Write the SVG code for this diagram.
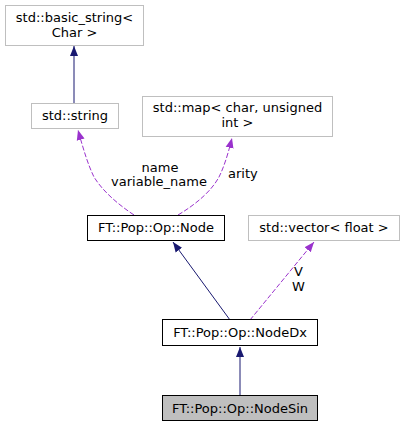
<svg xmlns="http://www.w3.org/2000/svg" width="405" height="427" viewBox="0 0 405 427">
<style>
text{font-family:"DejaVu Sans",sans-serif;font-size:13px;fill:#000}
.ext{fill:#fff;stroke:#bfbfbf;stroke-width:1}
.cls{fill:#fff;stroke:#000;stroke-width:1}
.cur{fill:#bfbfbf;stroke:#000;stroke-width:1}
.inh{fill:none;stroke:#191970;stroke-width:1}
.use{fill:none;stroke:#9a32cd;stroke-width:1;stroke-dasharray:5,2}
</style>
<defs>
<marker id="ah" viewBox="0 0 10 10" refX="10" refY="5" markerWidth="10" markerHeight="10" markerUnits="userSpaceOnUse" orient="auto"><path d="M0,1 L10,5 L0,9 Z" fill="#191970"/></marker>
<marker id="ap" viewBox="0 0 10 10" refX="10" refY="5" markerWidth="10" markerHeight="10" markerUnits="userSpaceOnUse" orient="auto"><path d="M0,1 L10,5 L0,9 Z" fill="#9a32cd"/></marker>
</defs>
<g id="connectors">
<path class="inh" d="M74,103 L74,46" marker-end="url(#ah)"/>
<path class="use" d="M134,215 C116,203 102,190 94,177 C88,165 83,148 78,130" marker-end="url(#ap)"/>
<path class="use" d="M178,215 C198,203 212,190 219,177 C225,165 229,150 232,138" marker-end="url(#ap)"/>
<path class="inh" d="M230,320 L173,242" marker-end="url(#ah)"/>
<path class="use" d="M250,320 L314,242" marker-end="url(#ap)"/>
<path class="inh" d="M240,396 L240,347" marker-end="url(#ah)"/>
<text text-anchor="middle"><tspan x="160" y="172">name</tspan><tspan x="159" y="186">variable_name</tspan></text>
<text x="228" y="178">arity</text>
<text><tspan x="294" y="276">V</tspan><tspan x="292" y="291">W</tspan></text>
</g>
<g id="basic_string">
<rect class="ext" x="5.5" y="5.5" width="138" height="40"/>
<text text-anchor="middle"><tspan x="74.5" y="21.5">std::basic_string&lt;</tspan><tspan x="74.5" y="36.5">Char &gt;</tspan></text>
</g>
<g id="string">
<rect class="ext" x="31.5" y="103.5" width="87" height="25"/>
<text x="75" y="120" text-anchor="middle">std::string</text>
</g>
<g id="map">
<rect class="ext" x="142.5" y="96.5" width="190" height="40"/>
<text text-anchor="middle"><tspan x="237.5" y="112">std::map&lt; char, unsigned</tspan><tspan x="237.5" y="127">int &gt;</tspan></text>
</g>
<g id="node">
<rect class="cls" x="87.5" y="215.5" width="137" height="25"/>
<text x="156" y="232" text-anchor="middle">FT::Pop::Op::Node</text>
</g>
<g id="vector">
<rect class="ext" x="248.5" y="215.5" width="151" height="25"/>
<text x="324" y="232" text-anchor="middle">std::vector&lt; float &gt;</text>
</g>
<g id="nodedx">
<rect class="cls" x="162.5" y="319.5" width="155" height="26"/>
<text x="240" y="337" text-anchor="middle">FT::Pop::Op::NodeDx</text>
</g>
<g id="nodesin">
<rect class="cur" x="162.5" y="395.5" width="155" height="25"/>
<text x="240" y="413" text-anchor="middle">FT::Pop::Op::NodeSin</text>
</g>
</svg>
